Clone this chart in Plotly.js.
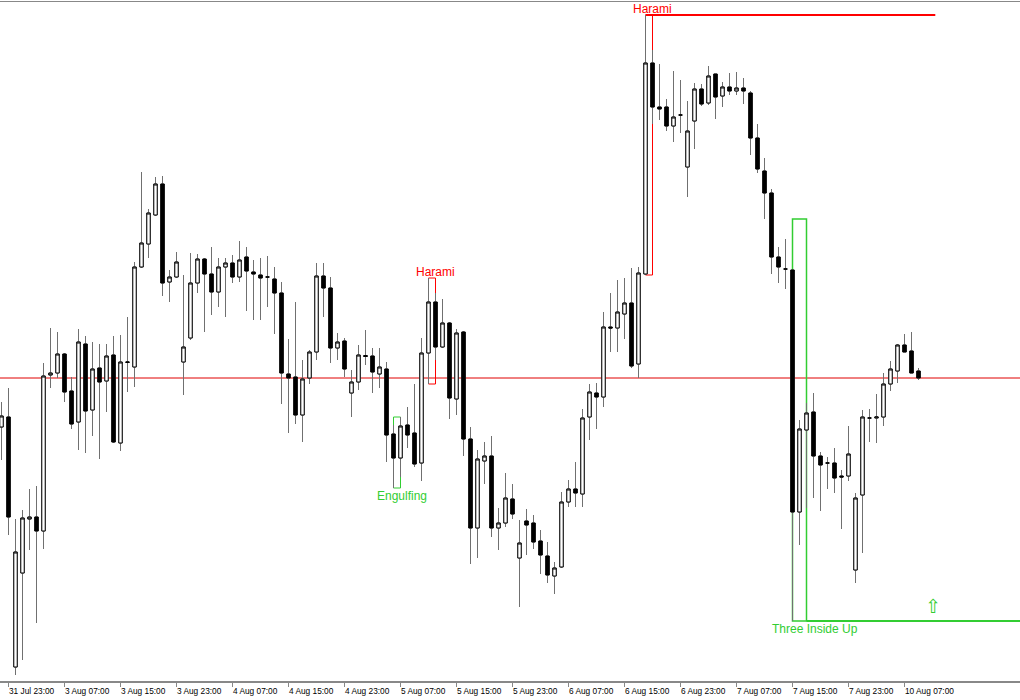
<!DOCTYPE html>
<html>
<head>
<meta charset="utf-8">
<script src="https://cdn.plot.ly/plotly-3.0.1.min.js"></script>
<style>
  html, body { margin: 0; padding: 0; background: #fff; }
  #chart { width: 1020px; height: 700px; }
</style>
</head>
<body>
<div id="chart"></div>
<script>
// H1 bars, bar 0 = 31 Jul 22:00 (price in chart points)
const opens = [
  254, 264, 14, 108, 162, 164, 150, 306, 308, 327,
  290, 259, 337, 271, 313, 300, 326, 238, 318.5, 314,
  414, 437, 466, 497, 399, 404, 319, 343, 398, 422,
  407, 389, 414, 418, 404, 424, 409, 406, 404, 402,
  388, 307, 304, 266, 303, 329, 405, 393, 333, 340,
  288, 299, 325.5, 325, 307, 312, 247, 223, 256, 248,
  218, 328, 379, 334, 358, 282, 349, 242, 153, 220,
  225, 153, 158, 182, 123, 160, 158, 140, 125, 105,
  114, 179, 192, 187, 264, 288, 284, 354, 353, 367,
  378, 317, 407, 618, 574, 574, 555, 566, 514, 560,
  592, 578, 607, 585, 594, 590, 593, 588, 543, 510,
  488, 424, 412, 411, 169, 251, 269, 225, 218, 218,
  205, 205, 111, 186, 263, 263, 264, 297, 310, 336,
  330, 310
];
const highs = [
  279, 293, 162, 171, 192, 195, 318, 353, 349, 328,
  304, 352, 345, 339, 337, 337, 345, 346, 364, 419,
  509, 472, 504, 505, 411, 429, 406, 428, 427, 423,
  434, 423, 423, 426, 440, 434, 421, 423, 425, 414,
  399, 342, 379, 321, 331, 418, 418, 404, 348, 343,
  311, 336, 351, 333, 333, 319, 256, 264, 274, 297,
  343, 403, 388, 382, 359, 352, 350, 254, 231, 239,
  245, 173, 208, 197, 161, 172, 166, 151, 139, 119,
  189, 201, 219, 272, 297, 298, 369, 388, 401, 403,
  413, 414, 666, 631, 617, 582, 610, 601, 580, 598,
  597, 615, 607, 599, 608, 609, 603, 590, 557, 523,
  492, 434, 442, 411, 261, 278, 288, 229, 224, 233,
  211, 255, 188, 271, 272, 287, 308, 320, 337, 347,
  349, 313
];
const lows = [
  221, 146, 6, 21, 131, 58, 132, 293, 303, 279,
  252, 231, 228, 245, 222, 269, 238, 230, 289, 294,
  413, 423, 465, 385, 379, 403, 286, 341, 388, 349,
  366, 374, 364, 398, 399, 370, 361, 361, 374, 347,
  277, 248, 257, 239, 297, 321, 364, 318, 321, 304,
  264, 291, 316, 288, 293, 219, 193, 204, 233, 214,
  200, 297, 321, 333, 262, 266, 225, 117, 123, 197,
  144, 131, 154, 162, 74, 126, 132, 107, 98, 87,
  113, 174, 174, 174, 241, 252, 274, 329, 329, 342,
  313, 303, 406, 557, 561, 550, 539, 548, 484, 532,
  575, 576, 562, 574, 586, 586, 577, 526, 508, 462,
  407, 398, 392, 60, 136, 173, 183, 170, 192, 188,
  152, 200, 98, 128, 239, 238, 255, 290, 298, 329,
  308, 301
];
const closes = [
  265, 164, 129, 163, 164, 150, 305, 308, 327, 289,
  257, 339, 270, 312, 299, 325, 239, 319, 319, 414,
  438, 468, 497, 398, 404, 419, 334, 398, 422, 407,
  389, 414, 418, 404, 421, 410, 407, 403, 404, 388,
  308, 303, 266, 302, 329, 405, 393, 333, 339, 312,
  299, 326, 324.5, 309, 314, 246, 223, 255, 246, 217,
  328, 379, 334, 358, 283, 348, 242, 153, 222, 225,
  153, 158, 183, 167, 138, 156, 139, 126, 106, 113,
  179, 192, 188, 263, 289, 284, 354, 353, 369, 378,
  315, 408, 618, 574, 572, 555, 564, 566, 550, 592,
  577, 605, 584, 594, 590, 593, 590, 543, 512, 488,
  424, 414, 412, 169, 252, 268, 225, 216, 218, 203,
  204, 227, 183, 264, 263, 264, 297, 312, 336, 329,
  308, 303
];
const bars = opens.map((_, i) => i);

const tickBars = [1, 9, 17, 25, 33, 41, 49, 57, 65, 73, 81, 89, 97, 105, 113, 121, 129];
const tickLabels = [
  '31 Jul 23:00', '3 Aug 07:00', '3 Aug 15:00', '3 Aug 23:00', '4 Aug 07:00',
  '4 Aug 15:00', '4 Aug 23:00', '5 Aug 07:00', '5 Aug 15:00', '5 Aug 23:00',
  '6 Aug 07:00', '6 Aug 15:00', '6 Aug 23:00', '7 Aug 07:00', '7 Aug 15:00',
  '7 Aug 23:00', '10 Aug 07:00'
];

// candle patterns found by the indicator
const patNames = ['Engulfing', 'Harami', 'Harami', 'Three Inside Up'];
const patFirst = [56, 61, 92, 113];
const patLast = [57, 62, 93, 115];
const patTop = [264, 403, 666, 462];
const patBottom = [193, 297, 406, 60];
const patBull = [true, false, false, true];
const patLabelBar = [57.2, 62, 93, 116.2];
const patLineW = [1, 1, 1, 1.5];

const levelLine = 303;          // horizontal red line
const resistLine = [92, 133.4, 666];  // from bar, to bar, price
const supportLine = [115, 60];        // from bar (to right edge), price
const arrowBar = 133, arrowPrice = 75;

const RED = '#ff0000';
const GREEN = '#32cd32';
const font = 'Liberation Sans, Arial, sans-serif';

// wicks (grey), then bodies drawn on top with black outline
const wicks = {
    type: 'candlestick',
    x: bars, open: opens, high: highs, low: lows, close: closes,
    increasing: { line: { color: '#707070', width: 1 }, fillcolor: '#fff' },
    decreasing: { line: { color: '#707070', width: 1 }, fillcolor: '#000' },
    whiskerwidth: 0,
    hoverinfo: 'skip',
    showlegend: false
};
const bodies = {
    type: 'candlestick',
    x: bars, open: opens, close: closes,
    high: opens.map((o, i) => Math.max(o, closes[i])),
    low: opens.map((o, i) => Math.min(o, closes[i])),
    increasing: { line: { color: '#000', width: 1 }, fillcolor: '#fff' },
    decreasing: { line: { color: '#000', width: 1 }, fillcolor: '#000' },
    whiskerwidth: 0,
    hoverinfo: 'skip',
    showlegend: false
};

const shapes = [
    { type: 'line', xref: 'paper', x0: 0, x1: 1, yref: 'y', y0: levelLine, y1: levelLine,
      line: { color: '#e00000', width: 1 }, layer: 'below' },
    { type: 'line', xref: 'x', x0: resistLine[0], x1: resistLine[1], yref: 'y', y0: resistLine[2], y1: resistLine[2],
      line: { color: RED, width: 2 }, layer: 'below' },
    { type: 'line', xref: 'x', x0: supportLine[0], x1: 200, yref: 'y', y0: supportLine[1], y1: supportLine[1],
      line: { color: GREEN, width: 2 }, layer: 'below' }
];
const annotations = [];

patNames.forEach((name, i) => {
    const col = patBull[i] ? GREEN : RED;
    shapes.push({
        type: 'rect', xref: 'x', yref: 'y',
        x0: patFirst[i], x1: patLast[i], y0: patBottom[i], y1: patTop[i],
        line: { color: col, width: patLineW[i] }, layer: 'below'
    });
    annotations.push({
        x: patLabelBar[i], y: patBull[i] ? patBottom[i] : patTop[i],
        xref: 'x', yref: 'y',
        yanchor: patBull[i] ? 'top' : 'bottom',
        yshift: patBull[i] ? 1 : -3,
        text: name, showarrow: false,
        font: { family: font, size: 12, color: col }
    });
});

annotations.push({
    x: arrowBar, y: arrowPrice, xref: 'x', yref: 'y',
    text: '\u21E7', showarrow: false,
    font: { family: 'DejaVu Sans', size: 19, color: GREEN }
});

tickBars.forEach((b, i) => {
    annotations.push({
        x: b, y: 0, xref: 'x', yref: 'paper',
        xanchor: 'left', yanchor: 'top', yshift: -3, xshift: -2,
        text: tickLabels[i], showarrow: false,
        font: { family: font, size: 8.3, color: '#000' }
    });
});

const layout = {
    width: 1020, height: 700,
    margin: { l: 0, r: 0, t: 2, b: 19, pad: 0 },
    paper_bgcolor: '#fff', plot_bgcolor: '#fff',
    showlegend: false,
    xaxis: {
        range: [-0.2143, 145.5],
        rangeslider: { visible: false },
        showgrid: false, zeroline: false,
        showline: true, mirror: true, linecolor: '#888', linewidth: 1.5,
        ticks: 'outside', ticklen: 4, tickcolor: '#888', tickwidth: 1,
        tickmode: 'array', tickvals: tickBars, showticklabels: false,
        fixedrange: true
    },
    yaxis: {
        range: [0, 679],
        showgrid: false, zeroline: false, showline: false,
        showticklabels: false, ticks: '', fixedrange: true
    },
    shapes: shapes,
    annotations: annotations
};

Plotly.newPlot('chart', [wicks, bodies], layout, { displayModeBar: false, staticPlot: true });
</script>
</body>
</html>
